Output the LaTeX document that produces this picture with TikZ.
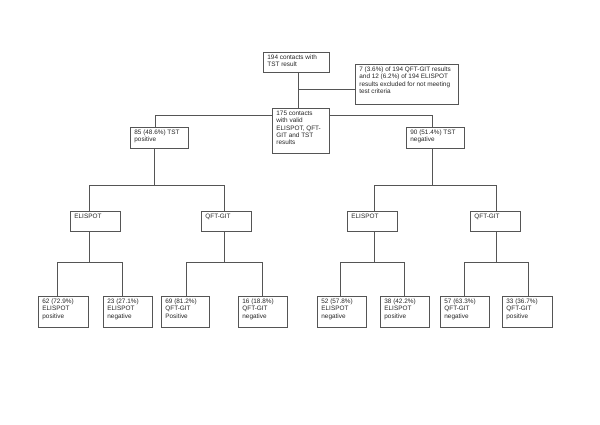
\documentclass[tikz,border=0pt]{standalone}
\usepackage{fontspec}
\setmainfont{Liberation Sans}
\newcommand\bt[3]{\parbox[c][#2][t]{#1}{\raggedright #3}}
\definecolor{ln}{RGB}{85,85,85}
\begin{document}
\begin{tikzpicture}[x=1pt,y=-1pt,
  box/.style={draw=ln, line width=0.8pt, inner xsep=4pt, inner ysep=2.6pt, anchor=north west,
    font=\fontsize{6.4}{7.3}\selectfont, text=black!85},
  conn/.style={draw=ln, line width=0.8pt}]
\useasboundingbox (0,0) rectangle (600,424);
% top
\node[box] (A) at (263,52) {\bt{58pt}{14.8pt}{194 contacts with\\TST result}};
\node[box] (X) at (355,64) {\bt{95pt}{34.8pt}{7 (3.6\%) of 194 QFT-GIT results\\and 12 (6.2\%) of 194 ELISPOT\\results excluded for not meeting\\test criteria}};
\node[box] (C) at (272,108) {\bt{49pt}{39.8pt}{175 contacts\\with valid\\ELISPOT, QFT-\\GIT and TST\\results}};
\node[box] (L) at (130,127) {\bt{50pt}{15.8pt}{85 (48.6\%) TST\\positive}};
\node[box] (R) at (406,127) {\bt{50pt}{15.8pt}{90 (51.4\%) TST\\negative}};
% second level
\node[box] (LE) at (70,211) {\bt{42pt}{14.8pt}{ELISPOT}};
\node[box] (LQ) at (201,211) {\bt{42pt}{14.8pt}{QFT-GIT}};
\node[box] (RE) at (347,211) {\bt{42pt}{14.8pt}{ELISPOT}};
\node[box] (RQ) at (470,211) {\bt{42pt}{14.8pt}{QFT-GIT}};
% bottom
\node[box] (b1) at (38,296) {\bt{42pt}{25.8pt}{62 (72.9\%)\\ELISPOT\\positive}};
\node[box] (b2) at (103,296) {\bt{41pt}{25.8pt}{23 (27.1\%)\\ELISPOT\\negative}};
\node[box] (b3) at (161,296) {\bt{40pt}{25.8pt}{69 (81.2\%)\\QFT-GIT\\Positive}};
\node[box] (b4) at (238,296) {\bt{41pt}{25.8pt}{16 (18.8\%)\\QFT-GIT\\negative}};
\node[box] (b5) at (317,296) {\bt{41pt}{25.8pt}{52 (57.8\%)\\ELISPOT\\negative}};
\node[box] (b6) at (380,296) {\bt{41pt}{25.8pt}{38 (42.2\%)\\ELISPOT\\positive}};
\node[box] (b7) at (440,296) {\bt{41pt}{25.8pt}{57 (63.3\%)\\QFT-GIT\\negative}};
\node[box] (b8) at (502,296) {\bt{42pt}{25.8pt}{33 (36.7\%)\\QFT-GIT\\positive}};
% junction coordinates
\coordinate (j0) at (298,89);
\coordinate (cl) at (155,115);
\coordinate (cr) at (432,115);
\coordinate (jl) at (154,185);
\coordinate (jr) at (432,185);
\coordinate (le) at (89,262);
\coordinate (lq) at (224,262);
\coordinate (re) at (374,262);
\coordinate (rq) at (496,262);
% connectors
\draw[conn] (j0 |- A.south) -- (j0 |- C.north);
\draw[conn] (j0) -- (j0 -| X.west);
\draw[conn] (C.west |- cl) -- (cl) -- (cl |- L.north);
\draw[conn] (C.east |- cr) -- (cr) -- (cr |- R.north);
\draw[conn] (jl |- L.south) -- (jl);
\draw[conn] (jr |- R.south) -- (jr);
\draw[conn] (le |- LE.north) -- (le |- jl) -- (lq |- jl) -- (lq |- LQ.north);
\draw[conn] (re |- RE.north) -- (re |- jr) -- (rq |- jr) -- (rq |- RQ.north);
\draw[conn] (le |- LE.south) -- (le);
\draw[conn] (lq |- LQ.south) -- (lq);
\draw[conn] (re |- RE.south) -- (re);
\draw[conn] (rq |- RQ.south) -- (rq);
\draw[conn] (57,0 |- b1.north) -- (57,262) -- (122,262) -- (122,0 |- b2.north);
\draw[conn] (186,0 |- b3.north) -- (186,262) -- (262,262) -- (262,0 |- b4.north);
\draw[conn] (340,0 |- b5.north) -- (340,262) -- (404,262) -- (404,0 |- b6.north);
\draw[conn] (464,0 |- b7.north) -- (464,262) -- (528,262) -- (528,0 |- b8.north);
\end{tikzpicture}
\end{document}
